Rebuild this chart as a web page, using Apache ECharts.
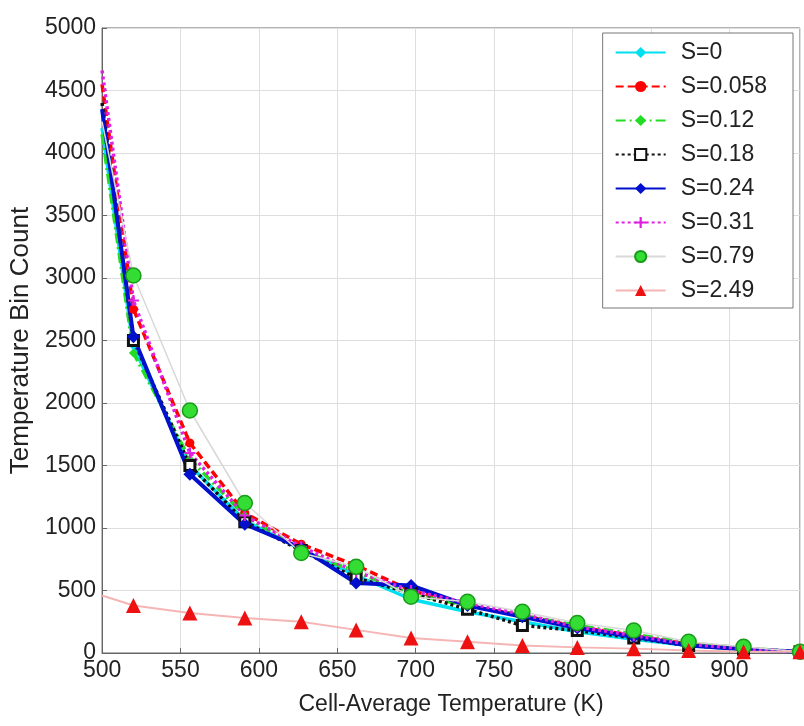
<!DOCTYPE html>
<html>
<head>
<meta charset="utf-8">
<script src="https://cdn.jsdelivr.net/npm/echarts@6/dist/echarts.min.js"></script>
<style>html,body{margin:0;padding:0;background:#fff}#c{width:804px;height:726px}</style>
</head>
<body>
<div id="c"></div>
<script>
const temps = [500, 520, 556, 591, 627, 662, 697, 733, 768, 803, 839, 874, 909, 945];
const seriesNames = ['S=0', 'S=0.058', 'S=0.12', 'S=0.18', 'S=0.24', 'S=0.31', 'S=0.79', 'S=2.49'];
const s0    = [4200, 2450, 1500, 1060, 830, 620, 430, 330, 250, 170, 110, 60, 30, 10];
const s058  = [4550, 2750, 1680, 1120, 870, 700, 500, 380, 300, 210, 140, 70, 35, 10];
const s012  = [4150, 2400, 1550, 1100, 820, 650, 470, 380, 300, 220, 150, 80, 40, 10];
const s018  = [4400, 2500, 1500, 1050, 820, 600, 480, 350, 220, 180, 120, 60, 30, 10];
const s024  = [4350, 2530, 1430, 1030, 840, 560, 540, 380, 290, 200, 130, 60, 30, 10];
const s031  = [4660, 2820, 1600, 1100, 850, 650, 500, 400, 310, 210, 140, 70, 35, 10];
const s079  = [4250, 3020, 1940, 1200, 800, 690, 450, 410, 330, 240, 180, 90, 50, 10];
const s249  = [460, 380, 320, 280, 250, 185, 120, 90, 60, 45, 35, 20, 10, 10];
const xTicks = [500, 550, 600, 650, 700, 750, 800, 850, 900];
const yTicks = [0, 500, 1000, 1500, 2000, 2500, 3000, 3500, 4000, 4500, 5000];

const values = [s0, s058, s012, s018, s024, s031, s079, s249];
const FONT = 'Liberation Sans, Arial, sans-serif';
const plusPath = 'path://M4,0 L6,0 L6,4 L10,4 L10,6 L6,6 L6,10 L4,10 L4,6 L0,6 L0,4 L4,4 Z';
const styles = [
  {color:'#00e0f0', line:{width:3.5, type:'solid'}, symbol:'diamond', size:7},
  {color:'#ff0000', line:{width:3.5, type:[8,4]}, symbol:'circle', size:9},
  {color:'#22dd22', line:{width:3.5, type:[10,4,2,4]}, symbol:'diamond', size:9},
  {color:'#111111', line:{width:3.5, type:[3,3]}, symbol:'rect', size:10, item:{color:'#ffffff', borderColor:'#111', borderWidth:3}},
  {color:'#0010cc', line:{width:4, type:'solid'}, symbol:'diamond', size:13},
  {color:'#e020e0', line:{width:3.5, type:[3,3]}, symbol:plusPath, size:11},
  {color:'#33dd33', line:{width:1.5, type:'solid', color:'#d8d8d8'}, symbol:'circle', size:15, item:{color:'#33dd33', borderColor:'#1a9a1a', borderWidth:1.5}},
  {color:'#ee1111', line:{width:2, type:'solid', color:'#f5b5b5'}, symbol:'triangle', size:15}
];

const series = seriesNames.map((n, i) => {
  const st = styles[i];
  return {
    name: n,
    type: 'line',
    data: temps.map((t, j) => (j === 0 ? {value: [t, values[i][j]], symbol: 'none'} : [t, values[i][j]])),
    symbol: st.symbol,
    symbolSize: st.size,
    showAllSymbol: true,
    lineStyle: Object.assign({color: st.color}, st.line),
    itemStyle: st.item ? st.item : {color: st.color},
    color: st.color,
    animation: false
  };
});

const chart = echarts.init(document.getElementById('c'), null, {renderer:'canvas'});
chart.setOption({
  animation: false,
  backgroundColor: '#ffffff',
  grid: {left: 101, right: 4, top: 28, bottom: 73, show: true, borderColor: '#666', borderWidth: 1, backgroundColor: 'transparent'},
  legend: {
    orient: 'vertical',
    right: 11,
    top: 33,
    padding: [8, 26, 6, 12],
    itemWidth: 50,
    itemHeight: 14,
    itemGap: 11,
    backgroundColor: '#ffffff',
    borderColor: '#777',
    borderWidth: 1,
    textStyle: {fontFamily: FONT, fontSize: 23, color: '#222', padding: [0, 0, 0, 10]},
    data: seriesNames
  },
  xAxis: {
    type: 'value',
    min: 500, max: 945, interval: 50,
    name: 'Cell-Average Temperature (K)',
    nameLocation: 'middle',
    nameGap: 40,
    nameTextStyle: {fontFamily: FONT, fontSize: 23, color: '#222'},
    axisLine: {lineStyle: {color: '#666'}},
    axisTick: {inside: true, length: 5, lineStyle: {color: '#666'}},
    axisLabel: {fontFamily: FONT, fontSize: 23, color: '#222', margin: 6,
      formatter: v => xTicks.includes(v) ? String(v) : ''},
    splitLine: {show: true, lineStyle: {color: '#dedede', width: 1}}
  },
  yAxis: {
    type: 'value',
    min: 0, max: 5000, interval: 500,
    name: 'Temperature Bin Count',
    nameLocation: 'middle',
    nameGap: 66,
    nameTextStyle: {fontFamily: FONT, fontSize: 26, color: '#222'},
    axisLine: {show: true, lineStyle: {color: '#666'}},
    axisTick: {show: true, inside: true, length: 5, lineStyle: {color: '#666'}},
    axisLabel: {fontFamily: FONT, fontSize: 23, color: '#222', margin: 6,
      formatter: v => yTicks.includes(v) ? String(v) : ''},
    splitLine: {show: true, lineStyle: {color: '#dedede', width: 1}}
  },
  series: series
});
</script>
</body>
</html>
